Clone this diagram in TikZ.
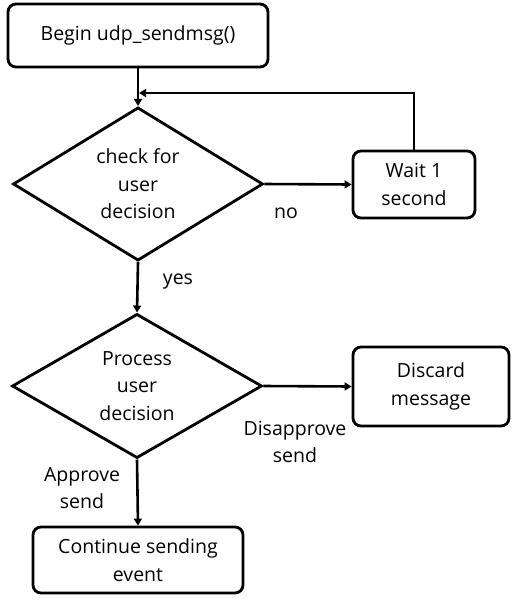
\documentclass[tikz,border=0pt]{standalone}
\usepackage{fontspec}
\setmainfont{Open Sans}
\usetikzlibrary{shapes.geometric,arrows.meta}
\begin{document}
\begin{tikzpicture}[x=1pt,y=-1pt,
  every node/.style={font=\fontsize{19.5}{27.5}\selectfont, align=center, inner sep=0pt},
  procbox/.style={draw, line width=2.8pt, rounded corners=8pt},
  decision/.style={draw, diamond, line width=2.8pt, minimum width=250pt, minimum height=142pt},
  flow/.style={line width=2.6pt, -{Triangle[length=7pt,width=8pt]}},
  lbl/.style={}]
\useasboundingbox (0,0) rectangle (512,598);
\node[procbox, minimum width=260pt, minimum height=63pt] (begin) at (138,35.5) {Begin udp\_sendmsg()};
\node[decision] (d1) at (138,184) {check for\\user\\decision};
\node[procbox, minimum width=122pt, minimum height=67pt] (wait) at (414,184.5) {Wait 1\\second};
\node[decision] (d2) at (137,386) {Process\\user\\decision};
\node[procbox, minimum width=156pt, minimum height=79pt] (disc) at (431,386.5) {Discard\\message};
\node[procbox, minimum width=210pt, minimum height=66pt] (cont) at (138,560) {Continue sending\\event};
\coordinate (j) at (139,93);
\node[lbl] (no) at (286,213) {no};
\node[lbl] (yes) at (178,282) {yes};
\node[lbl] (dis) at (295,442) {Disapprove\\send};
\node[lbl] (app) at (82,488) {Approve\\send};
\draw[flow] (begin.south) -- (d1.north);
\draw[flow] (wait.north) |- (j);
\draw[flow] (d1.east) -- (wait.west);
\draw[flow] (d1.south) -- (d2.north);
\draw[flow] (d2.east) -- (disc.west);
\draw[flow] (d2.south) -- (cont.north);
\end{tikzpicture}
\end{document}
